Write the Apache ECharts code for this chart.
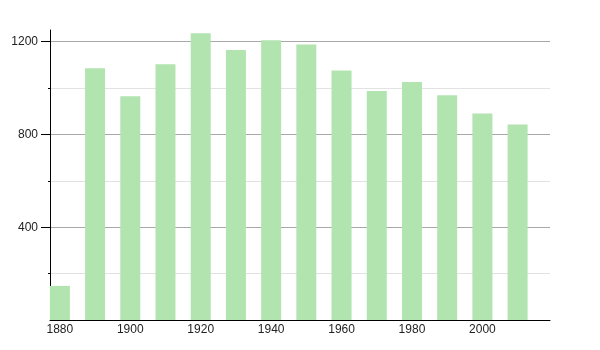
<!DOCTYPE html>
<html><head><meta charset="utf-8">
<script src="https://cdn.jsdelivr.net/npm/echarts@6/dist/echarts.min.js"></script>
<style>html,body{margin:0;padding:0;background:#fff}#c{width:600px;height:350px}</style>
</head><body><div id="c"></div>
<script>
const years = [1880,1890,1900,1910,1920,1930,1940,1950,1960,1970,1980,1990,2000,2010];
const values = [147,1085,964,1102,1236,1164,1206,1188,1075,987,1026,969,890,843];
const xLabels = [1880,1900,1920,1940,1960,1980,2000];
const yLabels = [400,800,1200];
const yMinor = [200,600,1000];

const chart = echarts.init(document.getElementById('c'), null, {renderer:'canvas'});
const font = {fontFamily:'Liberation Sans Narrow, Arial Narrow, Liberation Sans, sans-serif', fontSize:12, color:'#222'};
const plain = v => String(v);
chart.setOption({
  animation:false,
  grid:{left:50,right:50,top:30,bottom:30},
  xAxis:{type:'value',min:1877.2,max:2019.2,
    axisLine:{lineStyle:{color:'#000',width:1}},
    axisTick:{show:false},
    splitLine:{show:false},
    axisLabel:Object.assign({customValues:xLabels,margin:4,formatter:plain},font)
  },
  yAxis:[{type:'value',min:0,max:1250,interval:400,z:1,
    axisLine:{show:true,lineStyle:{color:'#000',width:1}},
    axisTick:{show:true,customValues:yLabels,length:9,lineStyle:{color:'#000'}},
    axisLabel:Object.assign({customValues:yLabels,margin:12,formatter:plain},font),
    splitLine:{show:true,lineStyle:{color:'#a8a8a8'}}
  },{type:'value',min:0,max:1250,interval:200,position:'left',z:0,
    axisLine:{show:false},
    axisTick:{show:true,customValues:yMinor,length:2,lineStyle:{color:'#000'}},
    axisLabel:{show:false},
    splitLine:{show:true,lineStyle:{color:'#e2e2e2'}}
  }],
  series:[{type:'bar',barWidth:20,z:2,
    itemStyle:{color:'#b2e4b0'},
    data:years.map((y,i)=>[y,values[i]])}]
});
</script></body></html>
